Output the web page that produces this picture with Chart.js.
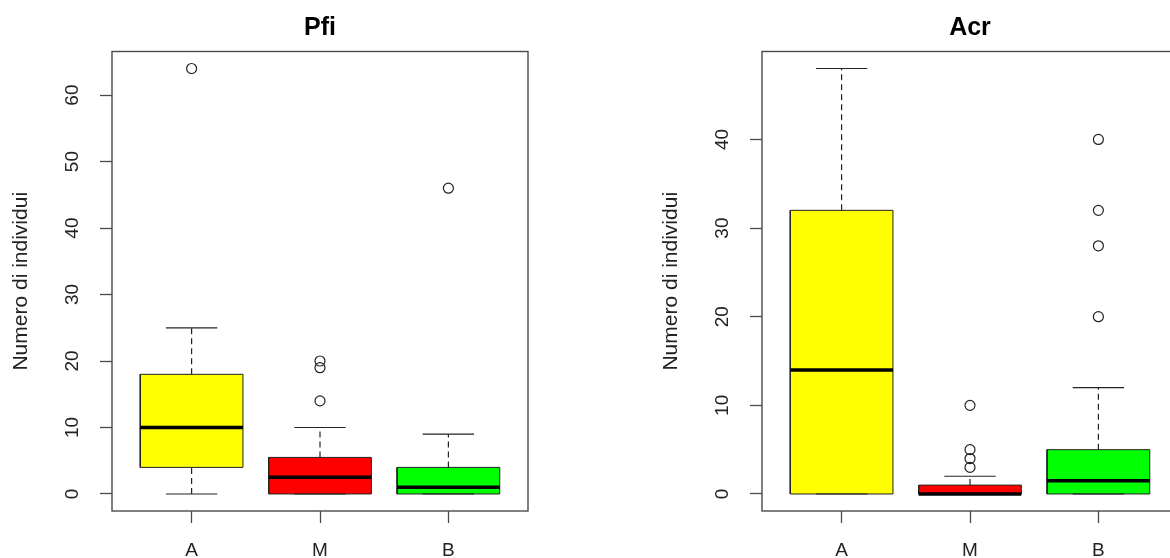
<!DOCTYPE html>
<html>
<head>
<meta charset="utf-8">
<script src="https://cdn.jsdelivr.net/npm/chart.js@4.4.0/dist/chart.umd.min.js"></script>
<style>
html, body { margin:0; padding:0; background:#fff; width:1170px; height:558px; overflow:hidden; position:relative; }
.panel { position:absolute; top:0; width:640px; height:558px; }
</style>
</head>
<body>
<div class="panel" style="left:0"><canvas id="chartPfi" width="640" height="558"></canvas></div>
<div class="panel" style="left:650px"><canvas id="chartAcr" width="640" height="558"></canvas></div>
<script>
var categories = ['A', 'M', 'B'];
var boxColors = ['#ffff00', '#ff0000', '#00ff00'];

// Pfi
var pfiLow = [0, 0, 0];
var pfiQ1 = [4, 0, 0];
var pfiMedian = [10, 2.5, 1];
var pfiQ3 = [18, 5.5, 4];
var pfiHigh = [25, 10, 9];
var pfiOutliers = [[64], [14, 19, 20], [46]];
var pfiTicks = [0, 10, 20, 30, 40, 50, 60];

// Acr
var acrLow = [0, 0, 0];
var acrQ1 = [0, 0, 0];
var acrMedian = [14, 0, 1.5];
var acrQ3 = [32, 1, 5];
var acrHigh = [48, 2, 12];
var acrOutliers = [[], [3, 4, 5, 10], [20, 28, 32, 40]];
var acrTicks = [0, 10, 20, 30, 40];

var fontFam = '"Liberation Sans", Arial, Helvetica, sans-serif';

// frame around plot + rotated y tick labels (R style)
var rFrame = {
    id: 'rFrame',
    afterDraw: function (chart) {
        var ctx = chart.ctx, ca = chart.chartArea, ys = chart.scales.y;
        ctx.save();
        ctx.strokeStyle = '#4a4a4a';
        ctx.lineWidth = 1.4;
        ctx.strokeRect(ca.left, ca.top, ca.right - ca.left, ca.bottom - ca.top);
        ctx.fillStyle = '#222';
        ctx.font = '19px ' + fontFam;
        ctx.textAlign = 'center';
        ctx.textBaseline = 'middle';
        ys.ticks.forEach(function (t) {
            ctx.save();
            ctx.translate(ca.left - 39.5, ys.getPixelForValue(t.value));
            ctx.rotate(-Math.PI / 2);
            ctx.fillText(String(t.value), 0, 0);
            ctx.restore();
        });
        ctx.restore();
    }
};

function seg(x1, y1, x2, y2) {
    return [{x: x1, y: y1}, {x: x2, y: y2}];
}

function makeBoxChart(id, title, low, q1, med, q3, high, outliers, yTicks) {
    var hw = 0.4, cw = 0.2;
    var sets = [];
    var outPts = [];
    var allVals = low.concat(high);
    categories.forEach(function (c, i) {
        var x = i + 1;
        sets.push({
            data: [{x: x - hw, y: q1[i]}, {x: x + hw, y: q1[i]}, {x: x + hw, y: q3[i]}, {x: x - hw, y: q3[i]}, {x: x - hw, y: q1[i]}],
            backgroundColor: boxColors[i], borderColor: '#222', borderWidth: 1, fill: 'shape', order: 3
        });
        sets.push({ data: seg(x, q3[i], x, high[i]), borderColor: '#222', borderWidth: 1.2, borderDash: [6, 4], order: 2 });
        sets.push({ data: seg(x, low[i], x, q1[i]), borderColor: '#222', borderWidth: 1.2, borderDash: [6, 4], order: 2 });
        sets.push({ data: seg(x - cw, high[i], x + cw, high[i]), borderColor: '#222', borderWidth: 1.2, order: 2 });
        sets.push({ data: seg(x - cw, low[i], x + cw, low[i]), borderColor: '#222', borderWidth: 1.2, order: 2 });
        sets.push({ data: seg(x - hw, med[i], x + hw, med[i]), borderColor: '#000', borderWidth: 3.5, order: 1 });
        outliers[i].forEach(function (v) {
            outPts.push({x: x, y: v});
            allVals.push(v);
        });
    });
    sets.push({
        data: outPts, showLine: false, pointRadius: 5, pointStyle: 'circle',
        pointBackgroundColor: 'rgba(0,0,0,0)', pointBorderColor: '#222', pointBorderWidth: 1.2, order: 0
    });

    var lo = Math.min.apply(null, allVals), hi = Math.max.apply(null, allVals);
    var pad = (hi - lo) * 0.04;
    var xPad = categories.length * 0.04;

    var ctx = document.getElementById(id).getContext('2d');
    return new Chart(ctx, {
        type: 'line',
        data: { datasets: sets },
        options: {
            responsive: false,
            animation: false,
            events: [],
            elements: { point: { radius: 0 }, line: { tension: 0 } },
            layout: { padding: 0 },
            plugins: {
                legend: { display: false },
                tooltip: { enabled: false },
                title: {
                    display: true, text: title, color: '#000',
                    font: { size: 25, weight: 'bold', family: fontFam, lineHeight: 1.2 },
                    padding: { top: 13, bottom: 8.5 }
                }
            },
            scales: {
                x: {
                    type: 'linear',
                    min: 0.5 - xPad, max: categories.length + 0.5 + xPad,
                    afterBuildTicks: function (s) { s.ticks = categories.map(function (c, i) { return {value: i + 1}; }); },
                    ticks: {
                        callback: function (v) { return categories[v - 1]; },
                        font: { size: 19, family: fontFam }, color: '#222',
                        padding: 16, autoSkip: false, maxRotation: 0
                    },
                    grid: { drawOnChartArea: false, drawTicks: true, tickLength: 12, tickColor: '#4a4a4a', tickWidth: 1.3 },
                    border: { display: false },
                    afterFit: function (s) { s.height = 47; }
                },
                y: {
                    type: 'linear', position: 'left',
                    min: lo - pad, max: hi + pad,
                    afterBuildTicks: function (s) { s.ticks = yTicks.map(function (v) { return {value: v}; }); },
                    ticks: { display: false },
                    grid: { drawOnChartArea: false, drawTicks: true, tickLength: 12, tickColor: '#4a4a4a', tickWidth: 1.3 },
                    border: { display: false },
                    title: {
                        display: true, text: 'Numero di individui', color: '#222',
                        font: { size: 21, family: fontFam, lineHeight: 1.2 }, padding: { top: 8.5 }
                    },
                    afterFit: function (s) { s.width = 112; }
                },
                y2: {
                    type: 'linear', position: 'right', display: true,
                    grid: { display: false }, ticks: { display: false }, border: { display: false },
                    afterFit: function (s) { s.width = 112; }
                }
            }
        },
        plugins: [rFrame]
    });
}

makeBoxChart('chartPfi', 'Pfi', pfiLow, pfiQ1, pfiMedian, pfiQ3, pfiHigh, pfiOutliers, pfiTicks);
makeBoxChart('chartAcr', 'Acr', acrLow, acrQ1, acrMedian, acrQ3, acrHigh, acrOutliers, acrTicks);
</script>
</body>
</html>
